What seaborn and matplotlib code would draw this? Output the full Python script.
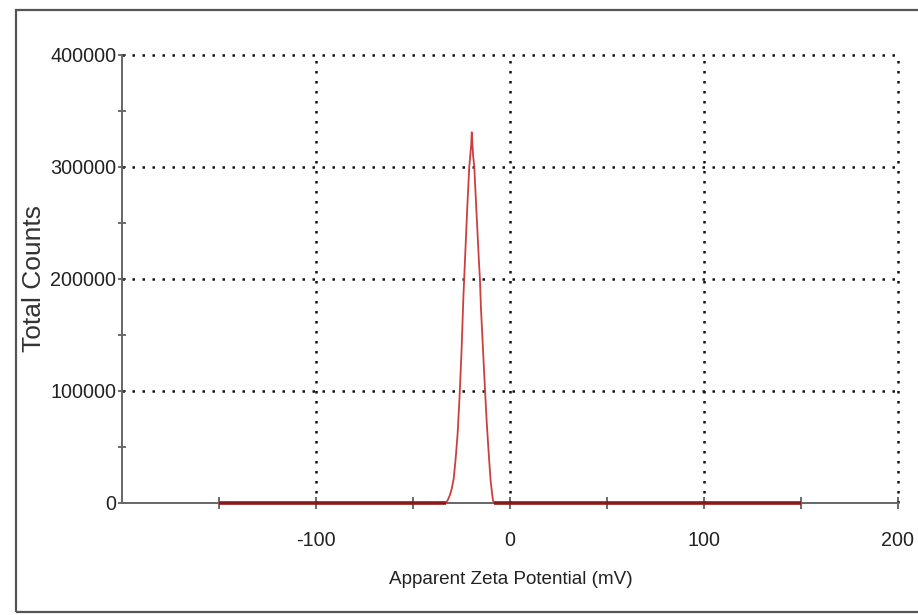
import matplotlib
matplotlib.use("Agg")
import matplotlib.pyplot as plt
from matplotlib import font_manager
from matplotlib.patches import Rectangle
import seaborn as sns
import pandas as pd

# ---- data ----
zeta_mv = [-150, -33, -32, -31, -30, -29, -28, -27, -26, -25, -24, -23, -22, -21,
           -20, -19.7, -19, -18.4, -18, -17, -16, -15.5, -15, -14, -13, -12, -11,
           -10, -9, -8.5, 150]
total_counts = [0, 0, 3000, 7000, 13000, 22000, 40000, 62000, 95000, 135000,
                185000, 225000, 265000, 300000, 320000, 331000, 310000, 300000,
                285000, 250000, 215000, 200000, 175000, 140000, 105000, 72000,
                45000, 20000, 5000, 0, 0]
x_major = [-100, 0, 100, 200]
x_minor = [-150, -50, 50, 150]
y_major = [0, 100000, 200000, 300000, 400000]
y_minor = [50000, 150000, 250000, 350000]
x_label = "Apparent Zeta Potential (mV)"
y_label = "Total Counts"

sns.set_style("white")
names = {f.name for f in font_manager.fontManager.ttflist}
if "Liberation Sans Narrow" in names:
    hfam = ["Liberation Sans Narrow", "DejaVu Sans"]
    tick_fs, xl_fs = 16, 15.5
else:
    hfam = ["Liberation Sans", "DejaVu Sans"]
    tick_fs, xl_fs = 14.2, 13.6
plt.rcParams["font.family"] = hfam

df = pd.DataFrame({"mv": zeta_mv, "counts": total_counts})

fig = plt.figure(figsize=(9.18, 6.15), dpi=100)
ax = fig.add_axes([122 / 918, 1 - 503 / 615, 776 / 918, 448 / 615])

# outer frame
fig.patches.append(Rectangle((16 / 918, 3 / 615), 1.2, (612 - 10) / 615,
                             transform=fig.transFigure, fill=False,
                             edgecolor="#555555", linewidth=1.6, zorder=0))

sns.lineplot(data=df, x="mv", y="counts", ax=ax, color="#cc3f3f",
             linewidth=1.3, zorder=4, clip_on=False)
# darker flat baseline segments
ax.plot(zeta_mv[:2], total_counts[:2], color="#8a1818", lw=2.6, zorder=4.5,
        solid_capstyle="butt", clip_on=False)
ax.plot(zeta_mv[-2:], total_counts[-2:], color="#8a1818", lw=2.6, zorder=4.5,
        solid_capstyle="butt", clip_on=False)

ax.set_xlim(-200, 200)
ax.set_ylim(0, 400000)
ax.set_xticks(x_major)
ax.set_xticks(x_minor, minor=True)
ax.set_xticklabels([str(v) for v in x_major])
ax.set_yticks(y_major)
ax.set_yticks(y_minor, minor=True)
ax.set_yticklabels([str(v) for v in y_major])

for s in ["top", "right"]:
    ax.spines[s].set_visible(False)
for s in ["left", "bottom"]:
    ax.spines[s].set_color("#666666")
    ax.spines[s].set_linewidth(1.4)
    ax.spines[s].set_zorder(3)

ax.tick_params(axis="x", which="both", bottom=True, direction="inout",
               length=9, width=1.1, color="#444444", pad=16,
               labelsize=tick_fs, labelcolor="#222222")
ax.tick_params(axis="y", which="both", left=True, direction="inout",
               length=6, width=1.1, color="#444444", pad=1,
               labelsize=tick_fs, labelcolor="#222222")

ax.grid(True, which="major", color="#111111", linestyle=(0, (1, 3)),
        linewidth=1.8)
ax.yaxis.get_gridlines()[0].set_visible(False)
for gl in ax.xaxis.get_gridlines() + ax.yaxis.get_gridlines():
    gl.set_clip_on(False)
ax.set_axisbelow(False)

ax.set_xlabel(x_label, fontsize=xl_fs, color="#222222")
ax.xaxis.set_label_coords(0.501, (503 - 571) / 448)
ax.set_ylabel(y_label, fontsize=19, color="#333333",
              family=["Liberation Sans", "DejaVu Sans"])
ax.yaxis.set_label_coords((46 - 122) / 776, 0.5)

fig.savefig("out.png", dpi=100)
